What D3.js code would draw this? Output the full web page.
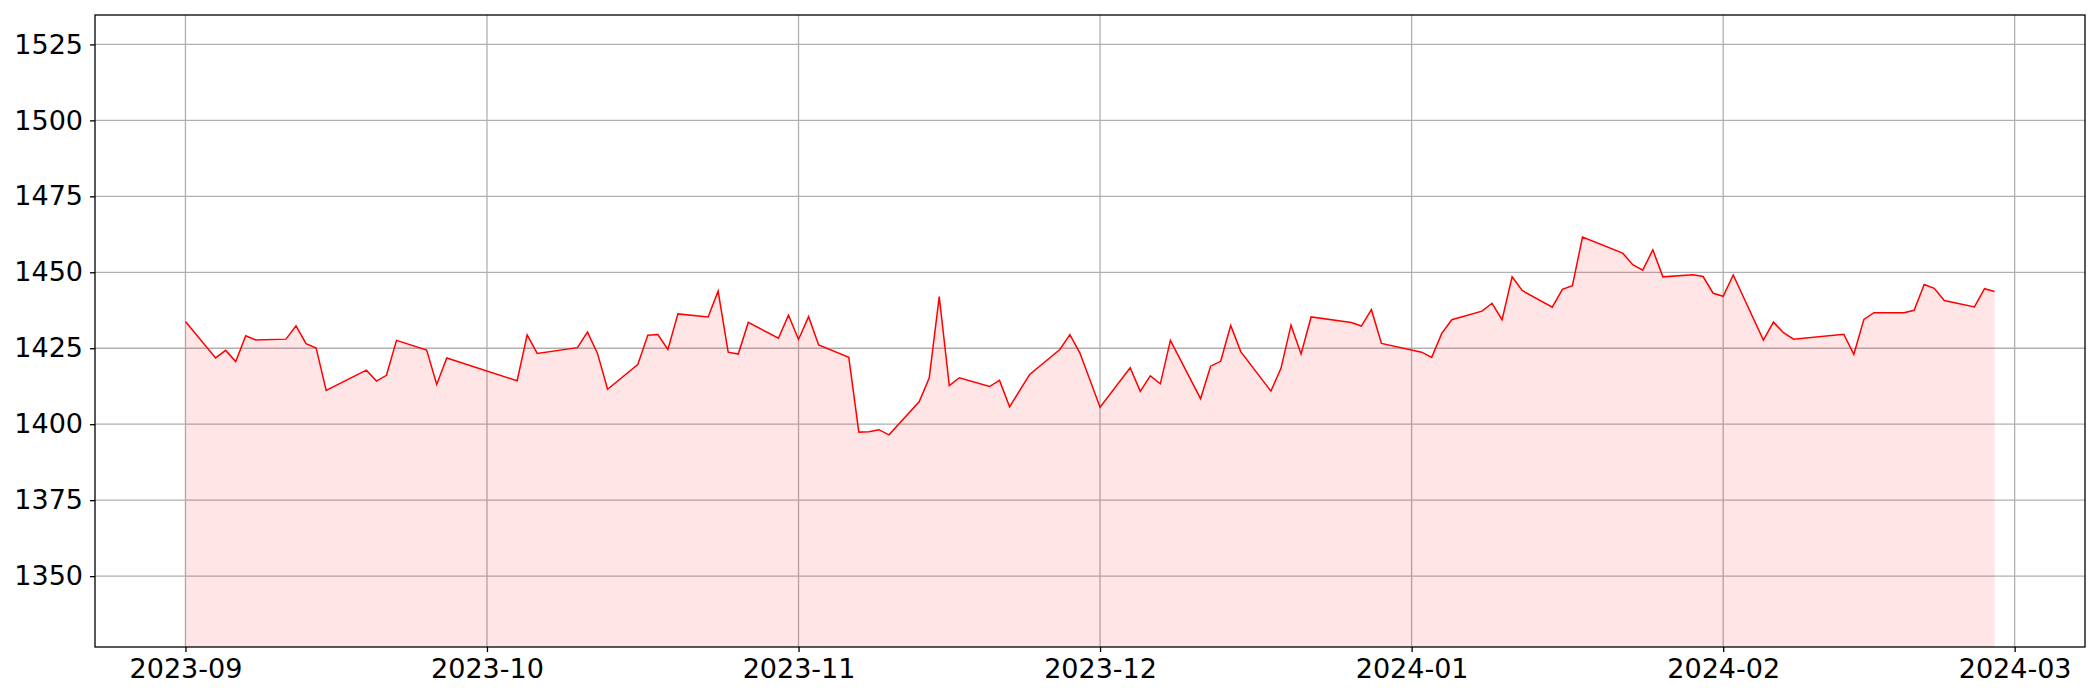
<!DOCTYPE html>
<html>
<head>
<meta charset="utf-8">
<script src="https://cdn.jsdelivr.net/npm/d3@7"></script>
<style>
  body { margin: 0; background: #fff; }
  .tick text { font-family: "DejaVu Sans", sans-serif; font-size: 27px; fill: #000; }
</style>
</head>
<body>
<div id="container"></div>
<script>

let dates = [
  "2023-09-01","2023-09-04","2023-09-05","2023-09-06","2023-09-07","2023-09-08",
  "2023-09-11","2023-09-12","2023-09-13","2023-09-14","2023-09-15",
  "2023-09-19","2023-09-20","2023-09-21","2023-09-22","2023-09-25","2023-09-26","2023-09-27",
  "2023-10-04","2023-10-05","2023-10-06","2023-10-10","2023-10-11","2023-10-12","2023-10-13",
  "2023-10-16","2023-10-17","2023-10-18","2023-10-19","2023-10-20",
  "2023-10-23","2023-10-24","2023-10-25","2023-10-26","2023-10-27","2023-10-30","2023-10-31",
  "2023-11-01","2023-11-02","2023-11-03","2023-11-06","2023-11-07","2023-11-08","2023-11-09","2023-11-10",
  "2023-11-13","2023-11-14","2023-11-15","2023-11-16","2023-11-17",
  "2023-11-20","2023-11-21","2023-11-22","2023-11-24","2023-11-27","2023-11-28","2023-11-29",
  "2023-12-01","2023-12-04","2023-12-05","2023-12-06","2023-12-07","2023-12-08",
  "2023-12-11","2023-12-12","2023-12-13","2023-12-14","2023-12-15",
  "2023-12-18","2023-12-19","2023-12-20","2023-12-21","2023-12-22",
  "2023-12-26","2023-12-27","2023-12-28","2023-12-29",
  "2024-01-02","2024-01-03","2024-01-04","2024-01-05",
  "2024-01-08","2024-01-09","2024-01-10","2024-01-11","2024-01-12",
  "2024-01-15","2024-01-16","2024-01-17","2024-01-18",
  "2024-01-22","2024-01-23","2024-01-24","2024-01-25","2024-01-26",
  "2024-01-29","2024-01-30","2024-01-31","2024-02-01","2024-02-02",
  "2024-02-05","2024-02-06","2024-02-07","2024-02-08",
  "2024-02-13","2024-02-14","2024-02-15","2024-02-16",
  "2024-02-19","2024-02-20","2024-02-21","2024-02-22","2024-02-23",
  "2024-02-26","2024-02-27","2024-02-28"
];

let prices = [
  1433.8,1421.8,1424.3,1420.6,1429.1,1427.7,
  1428.0,1432.4,1426.5,1425.1,1411.1,
  1417.8,1414.2,1416.1,1427.6,1424.4,1413.1,1421.8,
  1414.3,1429.4,1423.3,1425.2,1430.3,1423.3,1411.5,
  1419.6,1429.3,1429.5,1424.6,1436.3,
  1435.3,1443.8,1423.7,1423.1,1433.5,1428.3,1435.9,
  1427.9,1435.4,1426.1,1422.0,1397.4,1397.5,1398.2,1396.5,
  1407.4,1415.2,1442.0,1412.7,1415.3,
  1412.4,1414.4,1405.7,1416.4,1424.6,1429.5,1423.4,
  1405.6,1418.6,1410.8,1415.9,1413.3,1427.6,
  1408.4,1419.1,1420.7,1432.5,1423.9,
  1410.9,1418.4,1432.6,1423.1,1435.3,
  1433.5,1432.3,1437.7,1426.6,
  1423.7,1422.0,1429.9,1434.4,
  1437.2,1439.8,1434.4,1448.5,1444.0,
  1438.5,1444.4,1445.6,1461.6,
  1456.3,1452.5,1450.7,1457.4,1448.5,
  1449.2,1448.6,1443.1,1442.1,1449.1,
  1427.7,1433.6,1430.1,1428.0,
  1429.6,1423.0,1434.5,1436.7,
  1436.7,1437.5,1446.0,1444.7,1440.7,
  1438.6,1444.6,1443.7
];

let yTicks = [1350, 1375, 1400, 1425, 1450, 1475, 1500, 1525];
let xTicks = ["2023-09-01","2023-10-01","2023-11-01","2023-12-01","2024-01-01","2024-02-01","2024-03-01"];

let w = 2100;
let h = 700;
let margin = {top: 15, right: 15, bottom: 53, left: 95};

let viz = d3.select("#container")
  .append("svg")
    .attr("width", w)
    .attr("height", h)
;

let parse = d3.utcParse("%Y-%m-%d");
let data = dates.map((d, i) => ({date: parse(d), value: prices[i]}));

//x axis
let ext = d3.extent(data, d => d.date);
let pad = (ext[1] - ext[0]) * 0.05;
let xScale = d3.scaleUtc()
  .domain([new Date(+ext[0] - pad), new Date(+ext[1] + pad)])
  .range([margin.left, w - margin.right]);

//y axis, limits 5% under the lowest and over the highest value
let yMin = d3.min(prices) * 0.95;
let yMax = d3.max(prices) * 1.05;
let yScale = d3.scaleLinear().domain([yMin, yMax]).range([h - margin.bottom, margin.top]);

//grid
let grid = viz.append("g").attr("class", "grid");
grid.selectAll(".hgrid").data(yTicks).enter().append("line")
  .attr("x1", margin.left).attr("x2", w - margin.right)
  .attr("y1", d => yScale(d)).attr("y2", d => yScale(d))
  .attr("stroke", "#b0b0b0").attr("stroke-width", 1.3);
grid.selectAll(".vgrid").data(xTicks).enter().append("line")
  .attr("x1", d => xScale(parse(d))).attr("x2", d => xScale(parse(d)))
  .attr("y1", margin.top).attr("y2", h - margin.bottom)
  .attr("stroke", "#b0b0b0").attr("stroke-width", 1.3);

//area + line
let area = d3.area()
  .x(d => xScale(d.date))
  .y0(yScale(yMin))
  .y1(d => yScale(d.value));

let line = d3.line()
  .x(d => xScale(d.date))
  .y(d => yScale(d.value));

let graphGroup = viz.append("g").classed("graphGroup", true);
graphGroup.append("path").datum(data)
  .attr("d", area)
  .attr("fill", "red")
  .attr("fill-opacity", 0.1);
graphGroup.append("path").datum(data)
  .attr("d", line)
  .attr("fill", "none")
  .attr("stroke", "red")
  .attr("stroke-width", 1.5)
  .attr("stroke-linejoin", "miter");

//axes
let xAxis = d3.axisBottom(xScale)
  .tickValues(xTicks.map(parse))
  .tickFormat(d3.utcFormat("%Y-%m"))
  .tickSize(5).tickPadding(7).tickSizeOuter(0);
let xAxisGroup = viz.append("g").attr("class", "xaxis")
  .attr("transform", "translate(0," + (h - margin.bottom) + ")")
  .call(xAxis);

let yAxis = d3.axisLeft(yScale)
  .tickValues(yTicks)
  .tickFormat(d3.format("d"))
  .tickSize(5).tickPadding(7).tickSizeOuter(0);
let yAxisGroup = viz.append("g").attr("class", "yaxis")
  .attr("transform", "translate(" + margin.left + ",0)")
  .call(yAxis);

viz.selectAll(".domain").remove();
viz.selectAll(".tick line").attr("stroke", "#000").attr("stroke-width", 1.3);

//frame
viz.append("rect")
  .attr("x", margin.left).attr("y", margin.top)
  .attr("width", w - margin.left - margin.right)
  .attr("height", h - margin.top - margin.bottom)
  .attr("fill", "none").attr("stroke", "#000").attr("stroke-width", 1.3);

</script>
</body>
</html>
